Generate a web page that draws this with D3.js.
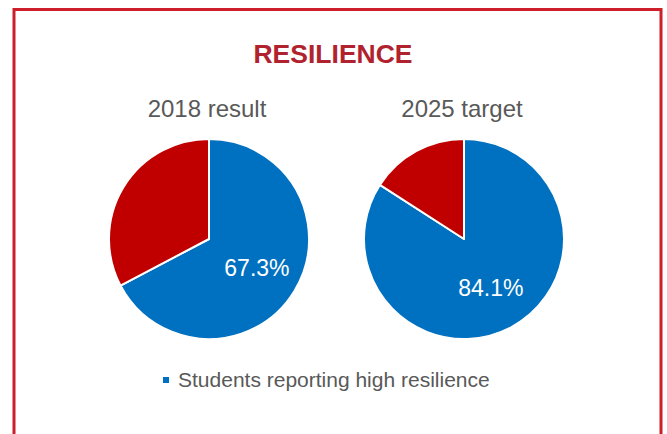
<!DOCTYPE html>
<html>
<head>
<meta charset="utf-8">
<script src="https://cdn.jsdelivr.net/npm/d3@7"></script>
<style>
  html, body { margin: 0; padding: 0; background: #fff; }
  svg { display: block; font-family: "Liberation Sans", Arial, sans-serif; }
</style>
</head>
<body>
<svg id="chart" width="667" height="434"></svg>
<script>
(function () {
    const chartTitle = "RESILIENCE";
    const pieTitles = ["2018 result", "2025 target"];
    const highResilience = [67.3, 84.1];
    const seriesNames = ["Students reporting high resilience", "Other"];
    const seriesColors = ["#0070C0", "#C00000"];

    const W = 667, H = 434;
    const R = 100;
    const svg = d3.select("#chart");

    // frame (open at the bottom, runs past the window)
    svg.append("path")
        .attr("d", `M14,${H + 5} L14,9.5 L661,9.5 L661,${H + 5}`)
        .attr("fill", "none").attr("stroke", "#CC1F2A").attr("stroke-width", 3);

    svg.append("text")
        .attr("x", 333).attr("y", 63)
        .attr("text-anchor", "middle")
        .attr("font-size", "26.5px").attr("font-weight", "bold")
        .attr("fill", "#B0232E")
        .text(chartTitle);

    const cx = d3.scalePoint().domain(pieTitles).range([209, 464]);
    const cy = 239;

    const pie = d3.pie().sort(null).value(d => d.value);
    const arc = d3.arc().innerRadius(0).outerRadius(R);
    const labelArc = d3.arc().innerRadius(R * 0.56).outerRadius(R * 0.56);

    pieTitles.forEach((t, i) => {
        const vals = [
            { name: seriesNames[0], value: highResilience[i] },
            { name: seriesNames[1], value: 100 - highResilience[i] }
        ];
        const g = svg.append("g").attr("transform", `translate(${cx(t)},${cy})`);

        g.append("text")
            .attr("x", -2).attr("y", -R - 22)
            .attr("text-anchor", "middle")
            .attr("font-size", "24px").attr("fill", "#595959")
            .text(t);

        const arcs = pie(vals);
        g.selectAll("path.slice").data(arcs).join("path")
            .attr("class", "slice")
            .attr("d", arc)
            .attr("fill", (d, j) => seriesColors[j])
            .attr("stroke", "#fff").attr("stroke-width", 2)
            .attr("stroke-linejoin", "round");

        const c = labelArc.centroid(arcs[0]);
        g.append("text")
            .attr("x", c[0]).attr("y", c[1])
            .attr("text-anchor", "middle").attr("dy", "0.35em")
            .attr("font-size", "23px").attr("fill", "#fff")
            .text(highResilience[i].toFixed(1) + "%");
    });

    // legend
    const lg = svg.append("g").attr("transform", "translate(163,377)");
    lg.append("rect").attr("width", 6).attr("height", 6).attr("fill", seriesColors[0]);
    lg.append("text")
        .attr("x", 15).attr("y", 3).attr("dy", "0.35em")
        .attr("font-size", "21px").attr("fill", "#595959")
        .text(seriesNames[0]);
})();
</script>
</body>
</html>
